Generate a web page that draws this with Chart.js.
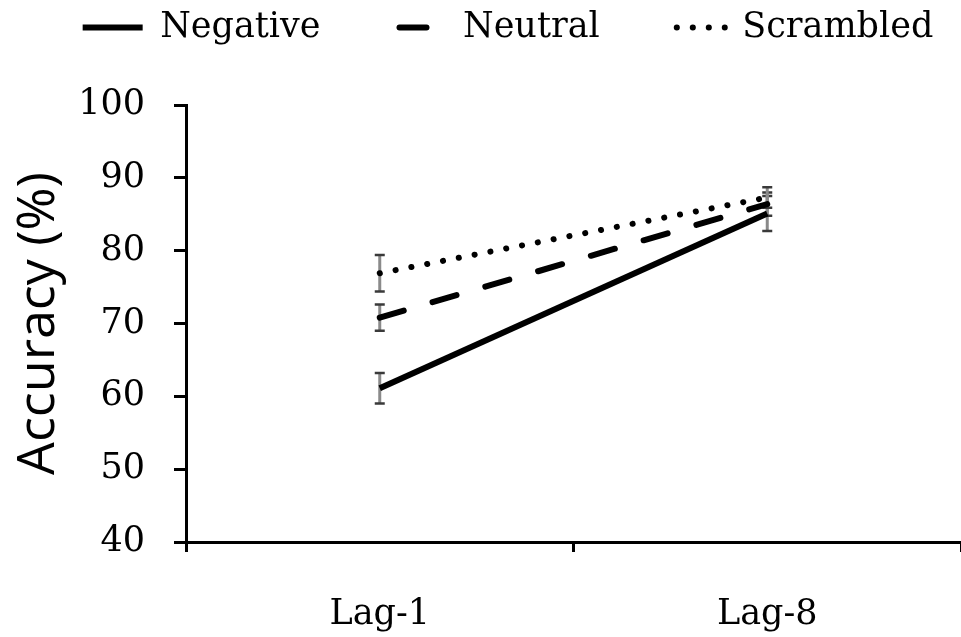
<!DOCTYPE html>
<html>
<head>
<meta charset="utf-8">
<script src="https://cdn.jsdelivr.net/npm/chart.js@4"></script>
<style>
  body { margin: 0; background: #fff; }
</style>
</head>
<body>
<canvas id="accuracyChart" width="961" height="637"></canvas>
<script>
const lags = ['Lag-1', 'Lag-8'];
const seriesNames = ['Negative', 'Neutral', 'Scrambled'];
const negative = [61.1, 85.1];
const neutral = [70.8, 86.4];
const scrambled = [76.9, 87.3];
const negativeErr = [2.1, 2.4];
const neutralErr = [1.8, 1.6];
const scrambledErr = [2.5, 1.4];
const yTicks = [40, 50, 60, 70, 80, 90, 100];

// legend samples: one dash pattern each, with a leading gap (offset)
const legendDash = [
    { dash: [60, 1000], offset: 1005 },
    { dash: [27, 1000], offset: 958 },
    { dash: [0.1, 15.9, 0.1, 15.9, 0.1, 15.9, 0.1, 1000], offset: 981.1 }
];

Chart.defaults.font.family = 'DejaVu Serif';
Chart.defaults.color = '#000';

const errorBars = {
    id: 'errorBars',
    afterLayout(chart) {
        // keep the legend at the very top
        const lg = chart.legend;
        const h = lg.height;
        lg.top = 0;
        lg.bottom = h;
    },
    beforeDatasetsDraw(chart) {
        const ctx = chart.ctx;
        const yScale = chart.scales.y;
        ctx.save();
        chart.data.datasets.forEach((ds, i) => {
            chart.getDatasetMeta(i).data.forEach((pt, j) => {
                const top = yScale.getPixelForValue(ds.data[j] + ds.errors[j]);
                const bot = yScale.getPixelForValue(ds.data[j] - ds.errors[j]);
                ctx.strokeStyle = '#8a8a8a';
                ctx.lineWidth = 3;
                ctx.beginPath();
                ctx.moveTo(pt.x, top);
                ctx.lineTo(pt.x, bot);
                ctx.stroke();
                ctx.strokeStyle = '#3a3a3a';
                ctx.lineWidth = 2.5;
                ctx.beginPath();
                ctx.moveTo(pt.x - 5, top); ctx.lineTo(pt.x + 5, top);
                ctx.moveTo(pt.x - 5, bot); ctx.lineTo(pt.x + 5, bot);
                ctx.stroke();
            });
        });
        ctx.restore();
    }
};

const ctx = document.getElementById('accuracyChart').getContext('2d');
new Chart(ctx, {
    type: 'line',
    data: {
        labels: lags,
        datasets: [
            {
                label: seriesNames[0],
                data: negative,
                errors: negativeErr,
                borderColor: '#000',
                backgroundColor: '#000',
                borderWidth: 6,
                borderCapStyle: 'butt'
            },
            {
                label: seriesNames[1],
                data: neutral,
                errors: neutralErr,
                borderColor: '#000',
                backgroundColor: '#000',
                borderWidth: 6,
                borderDash: [25, 30],
                borderCapStyle: 'round'
            },
            {
                label: seriesNames[2],
                data: scrambled,
                errors: scrambledErr,
                borderColor: '#000',
                backgroundColor: '#000',
                borderWidth: 6,
                borderDash: [0.1, 16],
                borderCapStyle: 'round'
            }
        ]
    },
    options: {
        responsive: false,
        animation: false,
        layout: { padding: 0 },
        elements: {
            point: { radius: 0, hoverRadius: 0 },
            line: { tension: 0 }
        },
        plugins: {
            tooltip: { enabled: false },
            legend: {
                position: 'top',
                labels: {
                    font: { size: 35 },
                    padding: 10,
                    usePointStyle: true,
                    pointStyle: 'line',
                    pointStyleWidth: 115,
                    generateLabels(chart) {
                        const items = Chart.defaults.plugins.legend.labels.generateLabels(chart);
                        items.forEach((item, i) => {
                            item.lineDash = legendDash[i].dash;
                            item.lineDashOffset = legendDash[i].offset;
                            item.lineWidth = 6;
                            item.lineCap = i === 0 ? 'butt' : 'round';
                            item.strokeStyle = '#000';
                            item.fillStyle = '#000';
                        });
                        return items;
                    }
                }
            }
        },
        scales: {
            x: {
                offset: true,
                grid: {
                    offset: true,
                    drawOnChartArea: false,
                    drawTicks: true,
                    tickLength: 10,
                    color: '#000',
                    lineWidth: 3
                },
                border: { color: '#000', width: 3 },
                ticks: { font: { size: 35 }, padding: 42 },
                afterFit(scale) { scale.height = 95; }
            },
            y: {
                min: 40,
                max: 100,
                afterBuildTicks(scale) {
                    scale.ticks = yTicks.map(v => ({ value: v }));
                },
                grid: {
                    drawOnChartArea: false,
                    drawTicks: true,
                    tickLength: 12,
                    color: '#000',
                    lineWidth: 3
                },
                border: { color: '#000', width: 3 },
                ticks: { font: { size: 35 }, padding: 29 },
                title: {
                    display: true,
                    text: 'Accuracy (%)',
                    font: { family: 'Open Sans', size: 52 },
                    padding: { top: 8, bottom: 0 }
                },
                afterFit(scale) {
                    scale.width = 186;
                    scale.paddingTop = 105;
                }
            }
        }
    },
    plugins: [errorBars]
});
</script>
</body>
</html>
